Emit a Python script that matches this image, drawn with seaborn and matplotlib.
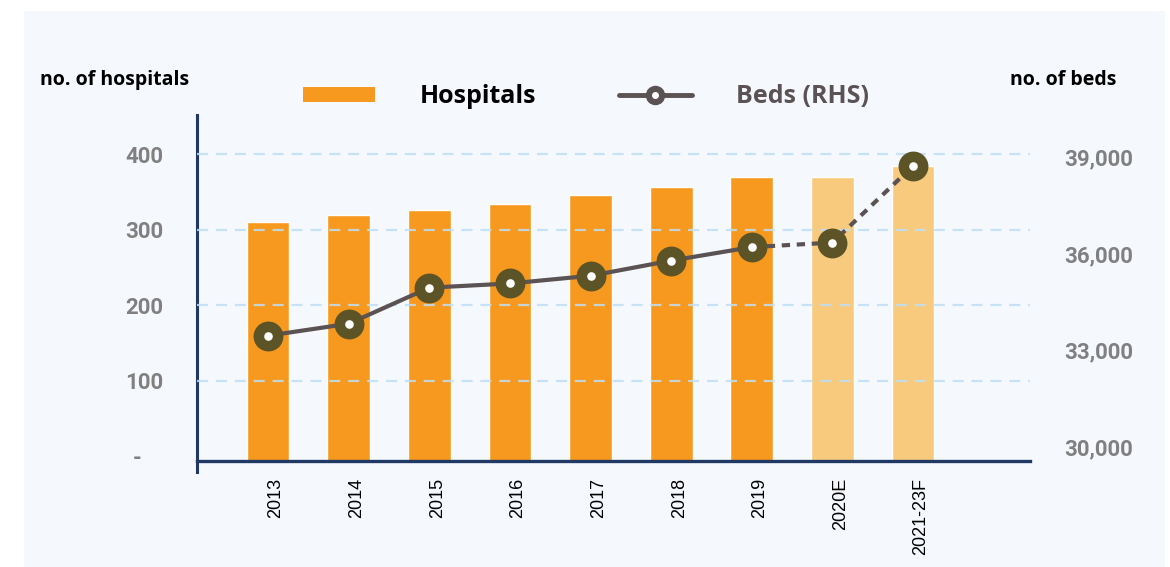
import numpy as np
import matplotlib
matplotlib.use("Agg")
import matplotlib.pyplot as plt
import matplotlib.transforms as mtransforms
from matplotlib.patches import Rectangle, Patch
from matplotlib.lines import Line2D
from matplotlib.legend_handler import HandlerTuple
import seaborn as sns

# ---- data ----
categories = ["2013", "2014", "2015", "2016", "2017", "2018", "2019", "2020E", "2021-23F"]
hospitals = [311, 320, 326, 334, 346, 357, 370, 370, 385]
beds = [33450, 33820, 34940, 35070, 35310, 35780, 36200, 36340, 38720]
left_ticks = [0, 100, 200, 300, 400]
left_labels = ["-    ", "100", "200", "300", "400"]
right_ticks = [30000, 33000, 36000, 39000]
right_labels = ["30,000", "33,000", "36,000", "39,000"]

ORANGE = "#F7981F"
LIGHT = "#F8CA7E"
bar_colors = [ORANGE] * 7 + [LIGHT] * 2
LINE = "#5B5254"
MARK = "#5C5327"
GRID = "#BFDFF5"
NAVY = "#1F3864"
GRAY = "#808080"

sns.set_style("white")
plt.rcParams["font.family"] = ["Roboto", "DejaVu Sans"]

fig = plt.figure(figsize=(11.7, 5.67), dpi=100, facecolor="white")
fig.patches.append(Rectangle((24 / 1170, 0), (1165 - 24) / 1170, 1 - 11 / 567,
                             transform=fig.transFigure, facecolor="#F5F9FD",
                             edgecolor="none", zorder=-10))

ax = fig.add_axes([197 / 1170, 1 - 461 / 567, (1030 - 197) / 1170, (461 - 115) / 567])
ax.set_facecolor("none")

sns.barplot(x=categories, y=hospitals, hue=categories, palette=bar_colors,
            width=0.53, saturation=1, legend=False, ax=ax, zorder=2)

YMIN, YMAX = -6, 452
ax.set_xlim(-0.88, 9.45)
ax.set_ylim(YMIN, YMAX)
# let the bars sit on the axis line (which lies just below zero)
for bar in ax.patches:
    bar.set_y(YMIN)
    bar.set_height(bar.get_height() - YMIN)

ax.set_yticks(left_ticks)
ax.set_yticklabels(left_labels)
ax.set_xlabel("")
ax.set_ylabel("")
for y in left_ticks[1:]:
    ax.axhline(y, color=GRID, lw=1.6, ls=(0, (5, 3.5)), zorder=3, alpha=0.85)

ax.tick_params(axis="y", length=0, pad=24, labelsize=16, labelcolor=GRAY)
ax.tick_params(axis="x", length=0, pad=12)
for lab in ax.get_yticklabels():
    lab.set_fontweight("bold")
ax.set_xticks(range(len(categories)))
ax.set_xticklabels(categories, rotation=90, fontsize=13, color="black",
                   family=["Liberation Sans", "DejaVu Sans"])
shift = mtransforms.ScaledTranslation(8 / 100, 0, fig.dpi_scale_trans)
for lab in ax.get_xticklabels():
    lab.set_transform(lab.get_transform() + shift)
for s in ["top", "right"]:
    ax.spines[s].set_visible(False)
ax.spines["left"].set_color(NAVY)
ax.spines["left"].set_linewidth(2.2)
ax.spines["left"].set_bounds(-20, YMAX)
ax.spines["bottom"].set_color(NAVY)
ax.spines["bottom"].set_linewidth(2.4)

# ---- beds on right axis ----
ax2 = ax.twinx()
pos = np.arange(len(categories))
sns.lineplot(x=pos[:7], y=beds[:7], ax=ax2, color=LINE, lw=3, zorder=4)
ax2.plot(pos[6:], beds[6:], color=LINE, lw=3, ls=(0, (2, 1.6)), zorder=4)
ax2.scatter(pos, beds, s=21.5 ** 2, color=MARK, zorder=5, linewidths=0)
ax2.scatter(pos, beds, s=6.2 ** 2, color="white", zorder=6, linewidths=0)
ax2.set_ylim(29560, 40300)
ax2.set_yticks(right_ticks)
ax2.set_yticklabels(right_labels)
ax2.set_ylabel("")
ax2.tick_params(axis="y", length=0, pad=25, labelsize=16, labelcolor=GRAY)
for lab in ax2.get_yticklabels():
    lab.set_fontweight("bold")
for s in ax2.spines.values():
    s.set_visible(False)
ax2.set_xlim(-0.88, 9.45)

# ---- axis titles ----
fig.text(40 / 1170, 1 - 80 / 567, "no. of hospitals", ha="left", va="center",
         fontsize=14, fontweight="bold", color="black", family=["Open Sans", "DejaVu Sans"])
fig.text(1010 / 1170, 1 - 80 / 567, "no. of beds", ha="left", va="center",
         fontsize=14, fontweight="bold", color="black", family=["Open Sans", "DejaVu Sans"])

# ---- legend ----
h_bar = Patch(facecolor=ORANGE, edgecolor="none")
h_line = (Line2D([], [], color=LINE, lw=3.5, marker="o", ms=13, mfc=LINE, mec=LINE),
          Line2D([], [], ls="none", marker="o", ms=4, mfc="white", mec="white"))
leg = fig.legend([h_bar, h_line], ["Hospitals", "Beds (RHS)"],
                 handler_map={tuple: HandlerTuple(ndivide=1, pad=0)},
                 loc="center", bbox_to_anchor=(586 / 1170, 1 - 97 / 567), ncol=2,
                 frameon=False, prop={"family": ["Open Sans", "DejaVu Sans"], "size": 18, "weight": "bold"},
                 handlelength=2.9, handleheight=0.56, handletextpad=1.8, columnspacing=3.3)
leg.get_texts()[0].set_color("black")
leg.get_texts()[1].set_color(LINE)

fig.savefig("out.png", dpi=100, facecolor="white")
